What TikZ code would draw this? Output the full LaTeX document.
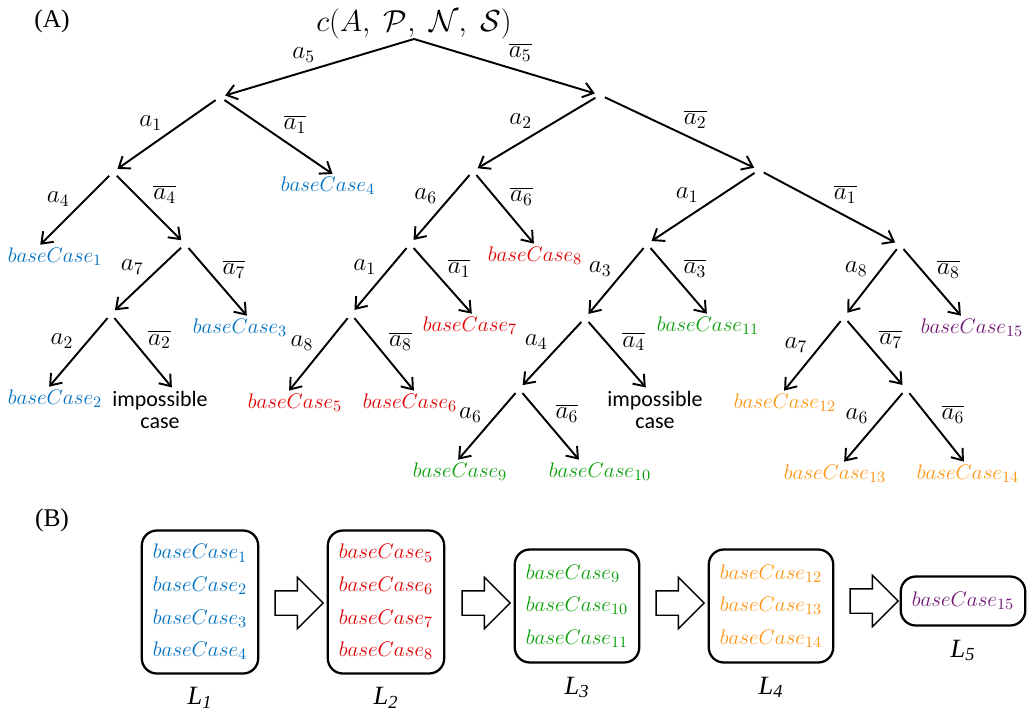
\documentclass[tikz,border=0pt]{standalone}
\usepackage{fontspec}
\usetikzlibrary{arrows.meta, positioning, shapes.arrows}
\newfontfamily\timesf{Liberation Serif}
\newfontfamily\calf{Carlito}
\definecolor{cblue}{RGB}{0,112,192}
\definecolor{cred}{RGB}{225,0,0}
\definecolor{cgreen}{RGB}{10,160,10}
\definecolor{corange}{RGB}{255,150,20}
\definecolor{cpurple}{RGB}{112,20,112}
\newcommand\bcase[1]{$baseCase_{#1}$}

\begin{document}
\begin{tikzpicture}[x=0.02cm, y=-0.02cm,
  br/.style={circle, inner sep=0pt, minimum size=2mm},
  leaf/.style={inner sep=1pt, font=\fontsize{12.5}{14}\selectfont},
  edge/.style={line width=1.1pt, -{Straight Barb[length=2mm, width=3mm]}},
  lbl/.style={font=\fontsize{14}{16}\selectfont, inner sep=2pt},
  listbox/.style={draw, line width=1.3pt, rounded corners=3mm, align=left,
    inner xsep=2.2mm, font=\fontsize{12.5}{18.5}\selectfont},
  blockarrow/.style={single arrow, draw, line width=0.8pt, inner sep=0.23cm,
    minimum height=0.96cm, single arrow head extend=0.27cm},
  Lname/.style={font={\fontsize{15}{17}\timesf\itshape}, inner sep=1pt}]
\useasboundingbox (0,0) rectangle (1027,713);

% panel tags
\node[font={\fontsize{14.5}{16}\timesf}] (tagA) at (52,21) {(A)};
\node[font={\fontsize{14.5}{16}\timesf}] (tagB) at (52,520) {(B)};

% (A) the case tree
\node[font=\fontsize{18}{20}\selectfont, anchor=south, inner sep=0pt] (root) at (414,39)
  {$c(A,\;\mathcal{P},\;\mathcal{N},\;\mathcal{S})$};
\foreach \n/\x/\y in {p1/220/97, p2/600/95, p3/113/172, p4/473/171, p5/759/170,
    p6/185/244, p7/410/244, p8/647/244, p9/900/245, p10/111/314, p11/351/314,
    p12/585/318, p13/844/317, p14/519/389, p15/906/389}
  \node[br] (\n) at (\x,\y) {};

\foreach \n/\x/\y/\k/\col in {bc1/55/257/1/cblue, bc2/55/399/2/cblue,
    bc3/240/328/3/cblue, bc4/328/186/4/cblue, bc5/295/403/5/cred,
    bc6/410/403/6/cred, bc7/470/326/7/cred, bc8/535/256/8/cred,
    bc9/460/472/9/cgreen, bc10/600/472/10/cgreen, bc11/708/326/11/cgreen,
    bc12/785/403/12/corange, bc13/835/474/13/corange, bc14/968/474/14/corange,
    bc15/972/328/15/cpurple}
  \node[leaf, text=\col] (\n) at (\x,\y) {\bcase{\k}};
\node[font={\fontsize{12.5}{13}\calf}, align=center, inner sep=1pt] (imp1) at (160,410) {impossible\\case};
\node[font={\fontsize{12.5}{13}\calf}, align=center, inner sep=1pt] (imp2) at (655,410) {impossible\\case};

\draw[edge] (root.south) -- (p1) node[lbl, midway, above left] {$a_5$};
\draw[edge] (root.south) -- (p2) node[lbl, midway, above right] {$\overline{a_5}$};
\foreach \p/\c/\l/\s in {p1/p3/a_1/above left, p2/p4/a_2/above left,
    p2/p5/\overline{a_2}/above right, p3/p6/\overline{a_4}/above right,
    p4/p7/a_6/above left, p5/p8/a_1/above left, p5/p9/\overline{a_1}/above right,
    p6/p10/a_7/above left, p7/p11/a_1/above left, p8/p12/a_3/above left,
    p9/p13/a_8/above left, p12/p14/a_4/above left, p13/p15/\overline{a_7}/above right}
  \draw[edge] (\p) -- (\c) node[lbl, midway, \s] {$\l$};
\foreach \p/\c/\dx/\l/\s in {p1/bc4/6/\overline{a_1}/above right,
    p3/bc1/-16/a_4/above left, p4/bc8/0/\overline{a_6}/above right,
    p6/bc3/8/\overline{a_7}/above right, p7/bc7/3/\overline{a_1}/above right,
    p8/bc11/0/\overline{a_3}/above right, p9/bc15/-10/\overline{a_8}/above right,
    p10/bc2/-7/a_2/above left, p10/imp1/13/\overline{a_2}/above right,
    p11/bc5/-7/a_8/above left, p11/bc6/5/\overline{a_8}/above right,
    p12/imp2/-8/\overline{a_4}/above right, p13/bc12/-2/a_7/above left,
    p14/bc9/-3/a_6/above left, p14/bc10/-20/\overline{a_6}/above right,
    p15/bc13/8/a_6/above left, p15/bc14/-3/\overline{a_6}/above right}
  \draw[edge, shorten >=1pt] (\p) -- ([xshift=\dx*0.2mm]\c.north) node[lbl, midway, \s] {$\l$};

% (B) the lists
\node[listbox, text=cblue, minimum height=2.86cm] (L1) at (200,602)
  {\bcase{1}\\\bcase{2}\\\bcase{3}\\\bcase{4}};
\node[listbox, text=cred, minimum height=2.86cm] (L2) at (386,602)
  {\bcase{5}\\\bcase{6}\\\bcase{7}\\\bcase{8}};
\node[listbox, text=cgreen, minimum height=2.26cm] (L3) at (577,606)
  {\bcase{9}\\\bcase{10}\\\bcase{11}};
\node[listbox, text=corange, minimum height=2.26cm] (L4) at (771,606)
  {\bcase{12}\\\bcase{13}\\\bcase{14}};
\node[listbox, text=cpurple, minimum height=0.98cm] (L5) at (963,601)
  {\bcase{15}};
\foreach \i in {1,...,5}
  \node[Lname, below=2.2mm of L\i] (name\i) {L\textsubscript{\i}};
\foreach \i/\x/\y in {1/293/603, 2/480/603, 3/674/603, 4/868/601}
  \node[blockarrow] (arr\i) at (\x,\y) {};
\end{tikzpicture}
\end{document}
